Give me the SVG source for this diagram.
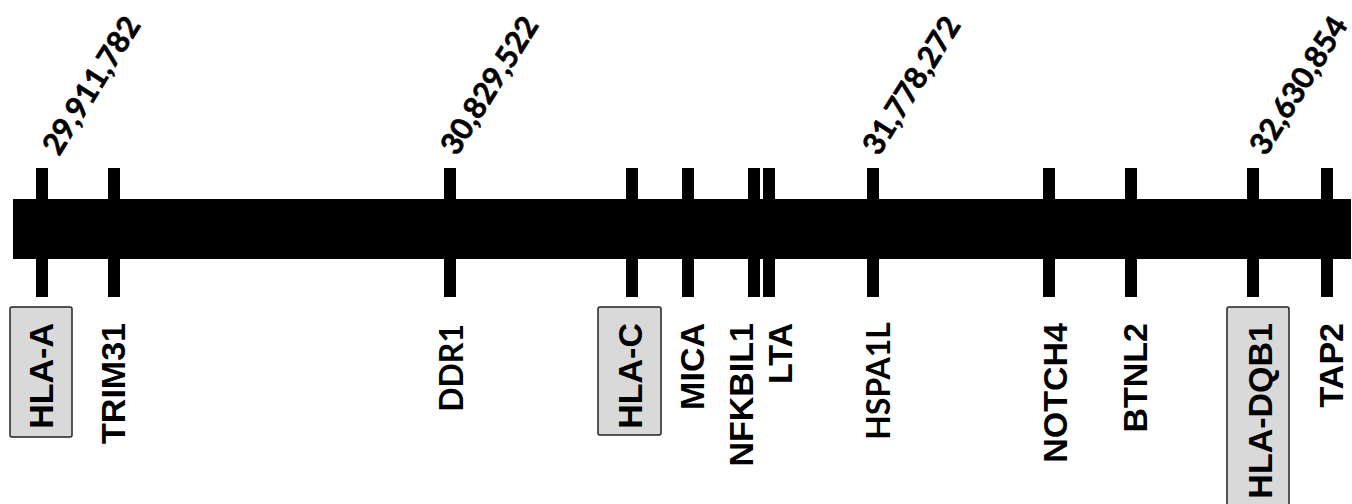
<svg xmlns="http://www.w3.org/2000/svg" width="1352" height="504" viewBox="0 0 1352 504">
<style>
.tick{fill:#000}
.box{fill:#d9d9d9;stroke:#222;stroke-width:1.5}
.g{font-family:"Liberation Sans",Arial,sans-serif;font-weight:bold;font-size:34px;fill:#000;text-anchor:end}
.c{font-family:Lato,"Open Sans",sans-serif;font-weight:bold;font-size:32px;fill:#000;text-anchor:end}
.n{font-family:Lato,"Open Sans",sans-serif;font-weight:bold;font-size:30.5px;fill:#000;stroke:#000;stroke-width:0.6}
</style>
<rect width="1352" height="504" fill="#fff"/>
<g id="chromosome">
<rect x="13" y="199" width="1338" height="60" fill="#000"/>
</g>
<g id="connectors">
<rect class="tick" x="36" y="168" width="12" height="129"/>
<rect class="tick" x="108" y="168" width="12" height="129"/>
<rect class="tick" x="444" y="168" width="12" height="129"/>
<rect class="tick" x="626" y="168" width="12" height="129"/>
<rect class="tick" x="682" y="168" width="12" height="129"/>
<rect class="tick" x="748" y="168" width="12" height="129"/>
<rect class="tick" x="763" y="168" width="12" height="129"/>
<rect class="tick" x="867" y="168" width="12" height="129"/>
<rect class="tick" x="1043" y="168" width="12" height="129"/>
<rect class="tick" x="1125" y="168" width="12" height="129"/>
<rect class="tick" x="1247" y="168" width="12" height="129"/>
<rect class="tick" x="1321" y="168" width="12" height="129"/>
</g>
<g id="pos1"><text class="n" transform="translate(59,157) rotate(-58)">29,911,782</text></g>
<g id="pos2"><text class="n" transform="translate(457,157) rotate(-58)">30,829,522</text></g>
<g id="pos3"><text class="n" transform="translate(879,157) rotate(-58)">31,778,272</text></g>
<g id="pos4"><text class="n" transform="translate(1266,157) rotate(-58)">32,630,854</text></g>
<g id="HLA-A"><rect class="box" x="10" y="307" width="62" height="130" rx="2"/><text class="g" transform="translate(53,323) rotate(-90)">HLA-A</text></g>
<g id="TRIM31"><text class="g" transform="translate(125,323) rotate(-90)">TRIM31</text></g>
<g id="DDR1"><text class="c" transform="translate(463,324) rotate(-90)">DDR1</text></g>
<g id="HLA-C"><rect class="box" x="598" y="307" width="63" height="128" rx="2"/><text class="g" transform="translate(642,323) rotate(-90)">HLA-C</text></g>
<g id="MICA"><text class="g" transform="translate(704,323) rotate(-90)">MICA</text></g>
<g id="NFKBIL1"><text class="g" transform="translate(753,323) rotate(-90)">NFKBIL1</text></g>
<g id="LTA"><text class="g" transform="translate(792,323) rotate(-90)">LTA</text></g>
<g id="HSPA1L"><text class="c" transform="translate(890,322) rotate(-90)">HSPA1L</text></g>
<g id="NOTCH4"><text class="g" transform="translate(1067,323) rotate(-90)">NOTCH4</text></g>
<g id="BTNL2"><text class="g" transform="translate(1147,323) rotate(-90)">BTNL2</text></g>
<g id="HLA-DQB1"><rect class="box" x="1227" y="307" width="62" height="210" rx="2"/><text class="g" transform="translate(1272,323) rotate(-90)">HLA-DQB1</text></g>
<g id="TAP2"><text class="g" transform="translate(1343,323) rotate(-90)">TAP2</text></g>
</svg>
